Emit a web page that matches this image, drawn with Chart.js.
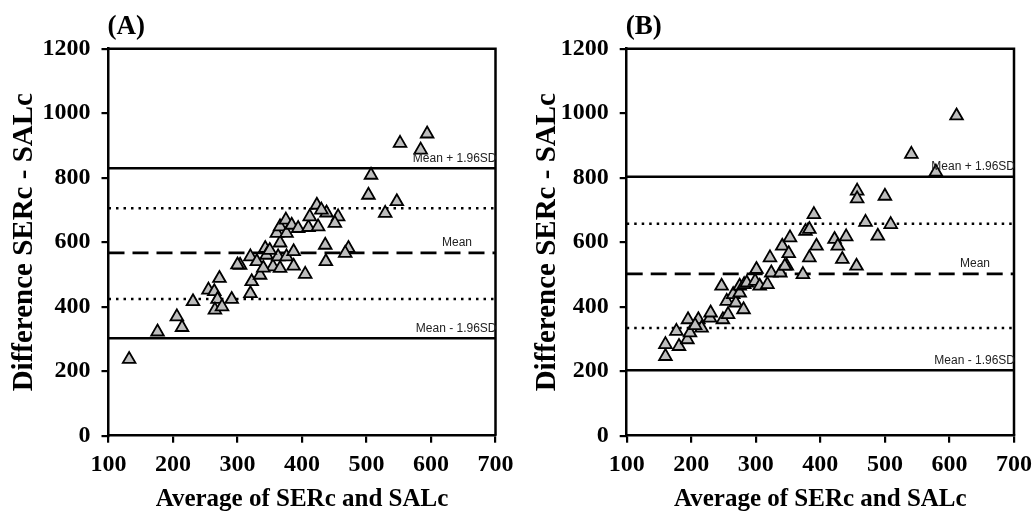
<!DOCTYPE html>
<html>
<head>
<meta charset="utf-8">
<script src="https://cdn.jsdelivr.net/npm/chart.js@4/dist/chart.umd.min.js"></script>
<style>
  html, body { margin:0; padding:0; background:#fff; width:1032px; height:513px; overflow:hidden; }
  canvas { position:absolute; top:0; }
  #cA { left:0; }
  #cB { left:516px; }
</style>
</head>
<body>
<canvas id="cA" width="516" height="513"></canvas>
<canvas id="cB" width="516" height="513"></canvas>
<script>
// ---------- DATA ----------
const panelLabels = ['(A)', '(B)'];
const xTitle = 'Average of SERc and SALc';
const yTitle = 'Difference SERc - SALc';
const xRange = [100, 700];
const yRange = [0, 1200];
const lineLabels = ['Mean + 1.96SD', 'Mean', 'Mean - 1.96SD'];

// Panel A points
const aX = [132,176,206,214,231,255,264,269,272,265,276,291,304,320,320,322,330,335,343,345,355,363,366,366,361,366,375,376,376,387,387,384,394,405,410,412,423,438,456,451,425,436,472,467,437,503,552,594,584,507,547,529,430,350,300,340];
const aY = [237,322,369,336,416,452,447,423,488,390,400,423,529,555,441,478,540,498,581,560,524,555,519,598,628,648,669,628,555,571,526,653,643,501,646,679,715,691,679,659,648,591,581,566,540,746,907,936,886,808,726,690,700,575,530,520];
// Panel A limits: upper LoA, +1SD, mean, -1SD, lower LoA
const aLimits = [829, 705, 567, 424, 302];

// Panel B points
const bX = [160,160,181,177,194,198,195,211,216,206,229,230,249,247,257,255,265,269,275,275,281,282,286,301,299,306,318,322,324,338,348,341,351,353,377,383,390,394,383,373,422,440,427,434,456,470,489,500,509,457,457,541,579,611,345];
const bY = [246,283,277,324,298,319,360,360,334,342,365,381,360,464,376,417,438,412,443,464,391,469,474,516,479,464,469,552,505,505,526,588,565,614,634,640,686,588,552,500,609,617,588,547,526,662,619,743,655,759,735,873,818,992,526];
const bLimits = [803, 657, 502, 334, 203];

// ---------- BUILD ----------
function pts(xs, ys) { return xs.map((x, i) => ({ x: x, y: ys[i] })); }
function hline(v) { return [{ x: xRange[0], y: v }, { x: xRange[1], y: v }]; }

const serif = 'Liberation Serif, Times New Roman, serif';
const sans = 'Liberation Sans, Arial, sans-serif';

function makeChart(id, label, xs, ys, lim, cfg) {
  const lineStyles = [
    { dash: [], w: 2.5 },
    { dash: [2.5, 5], w: 2.5 },
    { dash: [16, 8], w: 2.8 },
    { dash: [2.5, 5], w: 2.5 },
    { dash: [], w: 2.5 }
  ];
  const datasets = [{
    type: 'scatter',
    data: pts(xs, ys),
    pointStyle: 'triangle',
    pointRadius: 7.3,
    pointBackgroundColor: '#bdbdbd',
    pointBorderColor: '#000',
    pointBorderWidth: 1.8,
    order: 0
  }];
  lim.forEach((v, i) => {
    datasets.push({
      type: 'line',
      data: hline(v),
      borderColor: '#000',
      borderWidth: lineStyles[i].w,
      borderDash: lineStyles[i].dash,
      pointRadius: 0,
      fill: false,
      order: 1
    });
  });

  const overlay = {
    id: 'overlay',
    afterDatasetsDraw(chart) {
      const ctx = chart.ctx;
      const a = chart.chartArea;
      const ys = chart.scales.y;
      ctx.save();
      // frame
      ctx.strokeStyle = '#000';
      ctx.lineWidth = 2.5;
      ctx.beginPath();
      ctx.moveTo(a.left, a.top);
      ctx.lineTo(a.right, a.top);
      ctx.lineTo(a.right, a.bottom);
      ctx.stroke();
      // line labels
      ctx.fillStyle = '#222';
      ctx.font = '12px ' + sans;
      ctx.textBaseline = 'middle';
      ctx.textAlign = 'right';
      ctx.fillText(lineLabels[0], a.right + 1, ys.getPixelForValue(lim[0]) - cfg.lblOff);
      ctx.fillText(lineLabels[2], a.right + 1, ys.getPixelForValue(lim[4]) - cfg.lblOff);
      ctx.textAlign = 'center';
      ctx.fillText(lineLabels[1], cfg.meanX, ys.getPixelForValue(lim[2]) - cfg.lblOff);
      // panel label
      ctx.fillStyle = '#000';
      ctx.font = 'bold 27px ' + serif;
      ctx.textAlign = 'left';
      ctx.textBaseline = 'middle';
      ctx.fillText(label, a.left - 1, 27);
      ctx.restore();
    }
  };

  const plain = v => String(v);

  return new Chart(document.getElementById(id), {
    data: { datasets: datasets },
    options: {
      responsive: false,
      animation: false,
      devicePixelRatio: 1,
      layout: { padding: { top: 48.7, right: cfg.padRight, left: 0, bottom: 0 } },
      plugins: { legend: { display: false }, tooltip: { enabled: false } },
      scales: {
        x: {
          type: 'linear', min: xRange[0], max: xRange[1],
          ticks: { stepSize: 100, color: '#000', font: { family: serif, size: 24, weight: 'bold' }, padding: 8, callback: plain },
          grid: { drawOnChartArea: false, drawTicks: true, tickLength: 7, color: '#000', lineWidth: 2.2 },
          border: { color: '#000', width: 2.5 },
          title: { display: true, text: xTitle, color: '#000', font: { family: serif, size: 25, weight: 'bold' }, padding: { top: 0, bottom: -2 } },
          afterFit(s) { s.height = 77.3; s.paddingLeft = 0; s.paddingRight = 0; }
        },
        y: {
          type: 'linear', min: yRange[0], max: yRange[1],
          ticks: { stepSize: 200, color: '#000', font: { family: serif, size: 24, weight: 'bold' }, padding: 11, callback: plain },
          grid: { drawOnChartArea: false, drawTicks: true, tickLength: 7, color: '#000', lineWidth: 2.2 },
          border: { color: '#000', width: 2.5 },
          title: { display: true, text: yTitle, color: '#000', font: { family: serif, size: 29, weight: 'bold' }, padding: { top: cfg.yTitlePad, bottom: 0 } },
          afterFit(s) { s.width = cfg.yWidth; s.paddingTop = 0; s.paddingBottom = 0; }
        }
      }
    },
    plugins: [overlay]
  });
}

makeChart('cA', panelLabels[0], aX, aY, aLimits, { padRight: 20.5, yWidth: 108.5, yTitlePad: 7, meanX: 457, lblOff: 10 });
makeChart('cB', panelLabels[1], bX, bY, bLimits, { padRight: 18, yWidth: 110.7, yTitlePad: 14, meanX: 459, lblOff: 10 });
</script>
</body>
</html>
